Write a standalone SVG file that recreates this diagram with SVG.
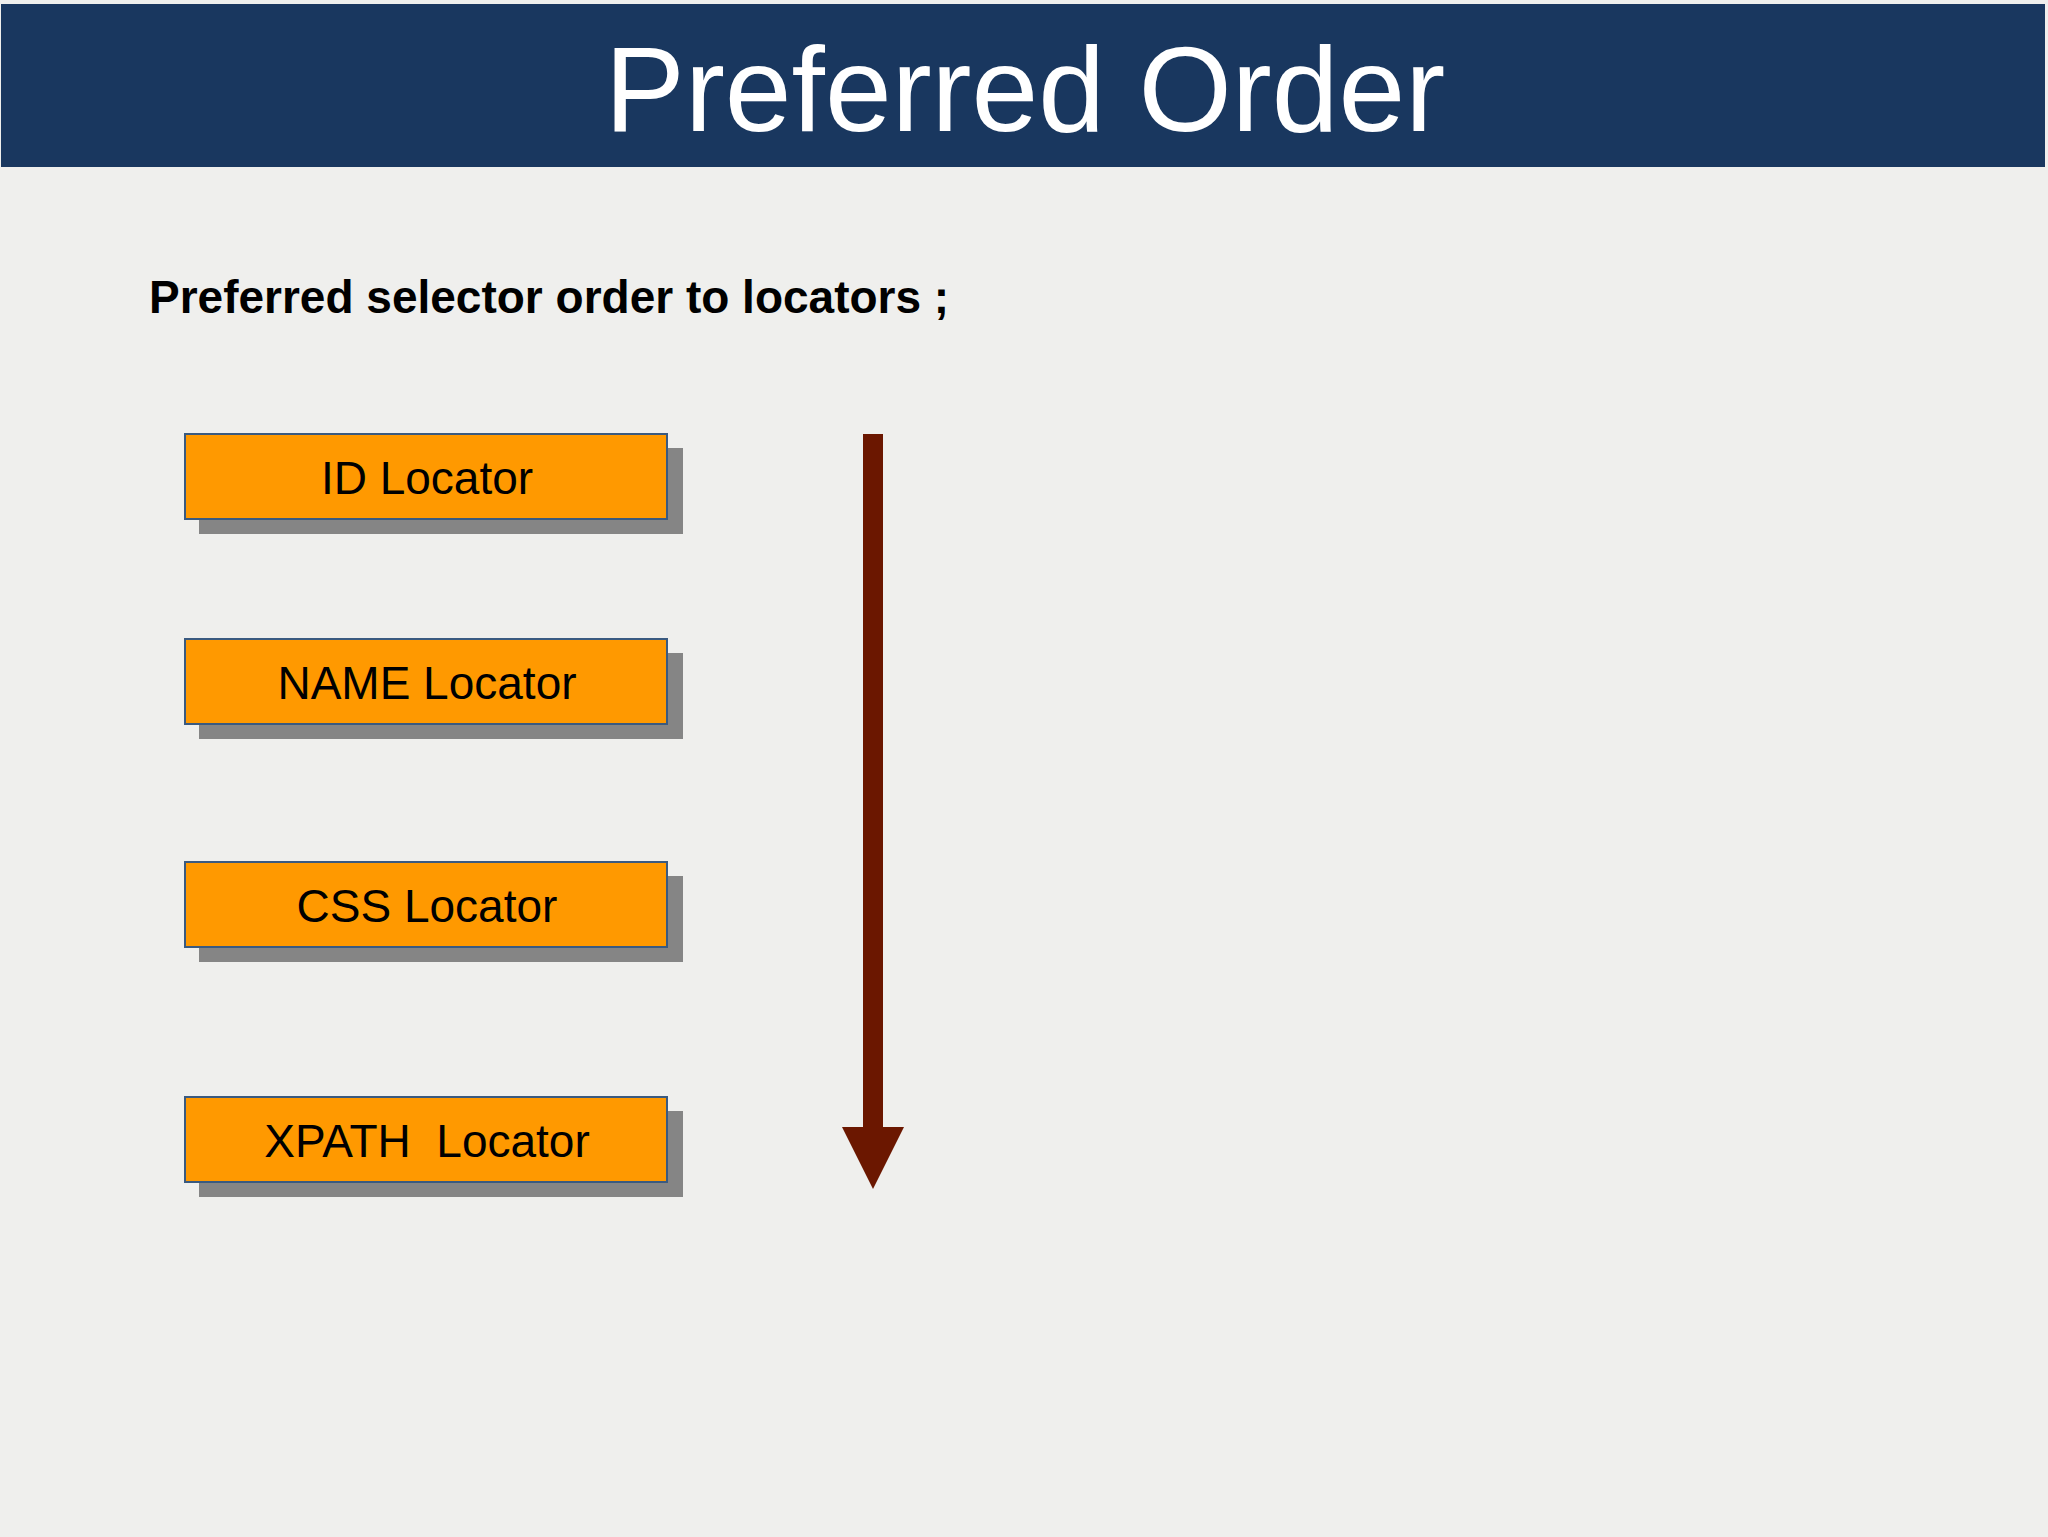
<svg xmlns="http://www.w3.org/2000/svg" width="2048" height="1537" viewBox="0 0 2048 1537">
<style>
.box{fill:#ff9900;stroke:#3a5a80;stroke-width:2}
.sh{fill:#858585}
.lbl{font-family:"Liberation Sans",Arial,sans-serif;font-size:46px;fill:#000;text-anchor:middle}
</style>
<rect width="2048" height="1537" fill="#efefed"/>
<g id="header">
<rect x="1" y="4" width="2044" height="163" fill="#19375f"/>
<text x="1025" y="131" font-family="Liberation Sans,Arial,sans-serif" font-size="120" fill="#fff" text-anchor="middle">Preferred Order</text>
</g>
<text id="subtitle" x="149" y="313" font-family="Liberation Sans,Arial,sans-serif" font-size="46" font-weight="bold" fill="#000">Preferred selector order to locators ;</text>
<g id="n1"><rect class="sh" x="199" y="448" width="484" height="86"/><rect class="box" x="185" y="434" width="482" height="85"/><text class="lbl" x="427" y="494">ID Locator</text></g>
<g id="n2"><rect class="sh" x="199" y="653" width="484" height="86"/><rect class="box" x="185" y="639" width="482" height="85"/><text class="lbl" x="427" y="699">NAME Locator</text></g>
<g id="n3"><rect class="sh" x="199" y="876" width="484" height="86"/><rect class="box" x="185" y="862" width="482" height="85"/><text class="lbl" x="427" y="922">CSS Locator</text></g>
<g id="n4"><rect class="sh" x="199" y="1111" width="484" height="86"/><rect class="box" x="185" y="1097" width="482" height="85"/><text class="lbl" x="427" y="1157" xml:space="preserve">XPATH  Locator</text></g>
<g id="connectors">
<polygon points="863,434 883,434 883,1127 904,1127 873,1189 842,1127 863,1127" fill="#6b1700"/>
</g>
</svg>
